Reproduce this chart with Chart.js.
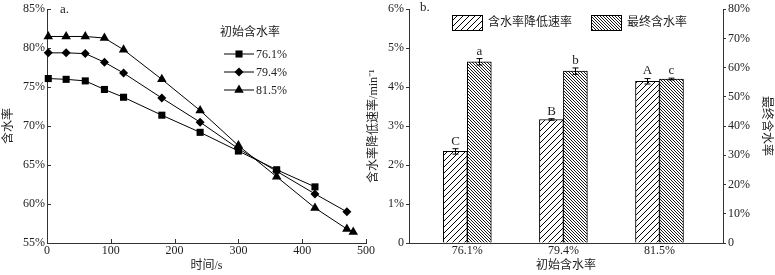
<!DOCTYPE html>
<html lang="zh">
  <head>
    <meta charset="UTF-8" />
    <title>含水率</title>
    <script src="https://cdn.jsdelivr.net/npm/chart.js@4.4.0/dist/chart.umd.min.js"></script>
    <style>
      body { margin: 0; background: #fff; }
      .wrap { position: relative; width: 775px; height: 275px; }
      canvas { position: absolute; top: 0; }
      #left { left: 0; }
      #right { left: 365px; }
    </style>
  </head>
  <body>
    <div class="wrap">
      <canvas id="left" width="385" height="275"></canvas>
      <canvas id="right" width="410" height="275"></canvas>
    </div>
    <script>
      // ---- panel a: moisture vs time ----
      const seriesNames = ["76.1%", "79.4%", "81.5%"];
      const t761 = [2, 30, 60, 90, 120, 180, 240, 300, 360, 420];
      const m761 = [76.1, 76.0, 75.8, 74.7, 73.7, 71.4, 69.2, 66.8, 64.4, 62.2];
      const t794 = [2, 30, 60, 90, 120, 180, 240, 300, 360, 420, 470];
      const m794 = [79.4, 79.4, 79.3, 78.2, 76.8, 73.6, 70.5, 67.1, 64.2, 61.3, 59.0];
      const t815 = [2, 30, 60, 90, 120, 180, 240, 300, 360, 420, 470, 480];
      const m815 = [81.5, 81.5, 81.5, 81.3, 79.8, 76.0, 72.0, 67.5, 63.5, 59.5, 56.8, 56.4];

      // ---- panel b: bars ----
      const categories = ["76.1%", "79.4%", "81.5%"];
      const rateValues = [2.35, 3.17, 4.15];
      const rateErrors = [0.07, 0.02, 0.07];
      const rateLetters = ["C", "B", "A"];
      const finalValues = [62.0, 58.8, 56.1];
      const finalErrors = [1.1, 1.1, 0.3];
      const finalLetters = ["a", "b", "c"];

      const FONT = '"Liberation Serif", "Noto Sans CJK SC", serif';
      const INK = "#222";
      Chart.defaults.font.family = FONT;
      Chart.defaults.font.size = 12;
      Chart.defaults.color = INK;

      const pct = (v) => (v === 0 ? "0" : v + "%");

      function drawMarker(ctx, style, x, y, r) {
        ctx.beginPath();
        if (style === "rect") {
          const s = r * Math.SQRT1_2;
          ctx.rect(x - s, y - s, 2 * s, 2 * s);
        } else if (style === "rectRot") {
          ctx.moveTo(x, y - r);
          ctx.lineTo(x + r, y);
          ctx.lineTo(x, y + r);
          ctx.lineTo(x - r, y);
          ctx.closePath();
        } else {
          const h = r * 1.5;
          ctx.moveTo(x, y - r);
          ctx.lineTo(x + h / Math.sqrt(3), y + r / 2);
          ctx.lineTo(x - h / Math.sqrt(3), y + r / 2);
          ctx.closePath();
        }
        ctx.fill();
      }

      const toPts = (xs, ys) => xs.map((x, i) => ({ x: x, y: ys[i] }));
      const styles = ["rect", "rectRot", "triangle"];
      const radii = [5, 4.5, 5.5];

      const leftExtras = {
        id: "leftExtras",
        afterDraw(chart) {
          const ctx = chart.ctx;
          const xs = chart.scales.x, ys = chart.scales.y;
          const area = chart.chartArea;
          ctx.save();
          // inward tick marks
          ctx.strokeStyle = "#333";
          ctx.lineWidth = 1;
          ctx.beginPath();
          xs.ticks.forEach((t) => {
            const px = Math.round(xs.getPixelForValue(t.value)) + 0.5;
            ctx.moveTo(px, area.bottom);
            ctx.lineTo(px, area.bottom - 4);
          });
          ys.ticks.forEach((t) => {
            const py = Math.round(ys.getPixelForValue(t.value)) + 0.5;
            ctx.moveTo(area.left, py);
            ctx.lineTo(area.left + 4, py);
          });
          ctx.stroke();

          // panel label
          ctx.fillStyle = INK;
          ctx.font = "13px " + FONT;
          ctx.textBaseline = "middle";
          ctx.textAlign = "left";
          ctx.fillText("a.", 60, 10);

          // legend
          ctx.font = "12px " + FONT;
          ctx.fillText("初始含水率", 220, 33);
          chart.data.datasets.forEach((ds, i) => {
            const y = 54 + i * 18;
            ctx.strokeStyle = "#000";
            ctx.beginPath();
            ctx.moveTo(224, y);
            ctx.lineTo(254, y);
            ctx.stroke();
            ctx.fillStyle = "#000";
            drawMarker(ctx, styles[i], 239, y, radii[i]);
            ctx.fillStyle = INK;
            ctx.fillText(ds.label, 256, y + 1);
          });
          ctx.restore();
        },
      };

      new Chart(document.getElementById("left"), {
        type: "line",
        data: {
          datasets: [
            { label: seriesNames[0], data: toPts(t761, m761) },
            { label: seriesNames[1], data: toPts(t794, m794) },
            { label: seriesNames[2], data: toPts(t815, m815) },
          ].map((d, i) => ({
            ...d,
            borderColor: "#000",
            backgroundColor: "#000",
            borderWidth: 1,
            pointStyle: styles[i],
            pointRadius: radii[i],
            pointBorderWidth: 0,
            tension: 0,
            clip: false,
          })),
        },
        options: {
          responsive: false,
          animation: false,
          layout: { padding: { top: 7, right: 19, left: 0, bottom: 0 } },
          plugins: { legend: { display: false }, tooltip: { enabled: false } },
          scales: {
            x: {
              type: "linear",
              min: 0,
              max: 500,
              afterFit: (s) => { s.height = 32; },
              ticks: { stepSize: 100, padding: 1 },
              grid: { display: true, drawOnChartArea: false, drawTicks: false },
              border: { color: "#333" },
              title: { display: true, text: "时间/s", padding: { top: 0, bottom: 2 } },
            },
            y: {
              min: 55,
              max: 85,
              afterFit: (s) => { s.width = 47; },
              ticks: { stepSize: 5, padding: 2, callback: (v) => v + "%" },
              grid: { display: true, drawOnChartArea: false, drawTicks: false },
              border: { color: "#333" },
              title: { display: true, text: "含水率", padding: { top: 2, bottom: 0 } },
            },
          },
        },
        plugins: [leftExtras],
      });

      // hatch patterns for the bars
      const rightCtx = document.getElementById("right").getContext("2d");
      function hatch(size, forward, lw) {
        const c = document.createElement("canvas");
        c.width = c.height = size;
        const g = c.getContext("2d");
        g.fillStyle = "#fff";
        g.fillRect(0, 0, size, size);
        g.strokeStyle = "#000";
        g.lineWidth = lw;
        g.beginPath();
        if (forward) {
          g.moveTo(-1, size + 1); g.lineTo(size + 1, -1);
          g.moveTo(-1, 1); g.lineTo(1, -1);
          g.moveTo(size - 1, size + 1); g.lineTo(size + 1, size - 1);
        } else {
          g.moveTo(-1, -1); g.lineTo(size + 1, size + 1);
          g.moveTo(-1, size - 1); g.lineTo(1, size + 1);
          g.moveTo(size - 1, -1); g.lineTo(size + 1, 1);
        }
        g.stroke();
        return rightCtx.createPattern(c, "repeat");
      }
      const ratePattern = hatch(6, true, 1);
      const finalPattern = hatch(3, false, 0.9);

      const rightExtras = {
        id: "rightExtras",
        afterDatasetsDraw(chart) {
          const ctx = chart.ctx;
          const errs = [rateErrors, finalErrors];
          const letters = [rateLetters, finalLetters];
          ctx.save();
          ctx.strokeStyle = "#000";
          ctx.lineWidth = 1;
          ctx.fillStyle = INK;
          ctx.font = "13px " + FONT;
          ctx.textAlign = "center";
          ctx.textBaseline = "bottom";
          chart.data.datasets.forEach((ds, i) => {
            const meta = chart.getDatasetMeta(i);
            const sc = chart.scales[ds.yAxisID];
            meta.data.forEach((el, j) => {
              const v = ds.data[j].y;
              const top = sc.getPixelForValue(v + errs[i][j]);
              const bot = sc.getPixelForValue(v - errs[i][j]);
              const x = Math.round(el.x) + 0.5;
              ctx.beginPath();
              ctx.moveTo(x, top); ctx.lineTo(x, bot);
              ctx.moveTo(x - 3, top); ctx.lineTo(x + 3, top);
              ctx.moveTo(x - 3, bot); ctx.lineTo(x + 3, bot);
              ctx.stroke();
              ctx.fillText(letters[i][j], x, top - 1);
            });
          });
          ctx.restore();
        },
        afterDraw(chart) {
          const ctx = chart.ctx;
          ctx.save();
          ctx.fillStyle = INK;
          ctx.font = "13px " + FONT;
          ctx.textBaseline = "middle";
          ctx.textAlign = "left";
          ctx.fillText("b.", 55, 8);
          // legend boxes
          ctx.font = "12px " + FONT;
          const boxX = [87, 226];
          chart.data.datasets.forEach((ds, i) => {
            ctx.fillStyle = ds.backgroundColor;
            ctx.fillRect(boxX[i], 15, 30, 15);
            ctx.strokeStyle = "#000";
            ctx.strokeRect(boxX[i] + 0.5, 15.5, 30, 15);
            ctx.fillStyle = INK;
            ctx.fillText(ds.label, boxX[i] + 36, 23);
          });
          ctx.restore();
        },
      };

      new Chart(rightCtx, {
        type: "bar",
        data: {
          datasets: [
            {
              label: "含水率降低速率",
              data: rateValues.map((v, i) => ({ x: i + 1, y: v })),
              yAxisID: "y",
              backgroundColor: ratePattern,
              borderColor: "#000",
              borderWidth: 1,
              barThickness: 24,
            },
            {
              label: "最终含水率",
              data: finalValues.map((v, i) => ({ x: i + 1, y: v })),
              yAxisID: "y1",
              backgroundColor: finalPattern,
              borderColor: "#000",
              borderWidth: 1,
              barThickness: 24,
            },
          ],
        },
        options: {
          responsive: false,
          animation: false,
          layout: { padding: { top: 7, right: 0, left: 0, bottom: 0 } },
          plugins: { legend: { display: false }, tooltip: { enabled: false } },
          scales: {
            x: {
              type: "linear",
              offset: false,
              min: 0.393,
              max: 3.661,
              afterFit: (s) => { s.height = 32; },
              afterBuildTicks: (s) => { s.ticks = categories.map((c, i) => ({ value: i + 1 })); },
              ticks: { padding: 1, autoSkip: false, callback: (v) => categories[v - 1] },
              grid: { display: true, drawOnChartArea: false, drawTicks: false },
              border: { color: "#333" },
              title: { display: true, text: "初始含水率", padding: { top: 0, bottom: 2 } },
            },
            y: {
              position: "left",
              min: 0,
              max: 6,
              afterFit: (s) => { s.width = 44; },
              ticks: { stepSize: 1, padding: 2, callback: pct },
              grid: { display: true, drawOnChartArea: false, drawTicks: true, tickLength: 3, color: "#333" },
              border: { color: "#333" },
              title: { display: true, text: "含水率降低速率/min⁻¹", padding: { top: 2, bottom: 0 } },
            },
            y1: {
              position: "right",
              min: 0,
              max: 80,
              afterFit: (s) => { s.width = 52; },
              ticks: { stepSize: 10, padding: 2, callback: pct },
              grid: { display: true, drawOnChartArea: false, drawTicks: true, tickLength: 3, color: "#333" },
              border: { color: "#333" },
              title: { display: true, text: "最终含水率", padding: { top: 2, bottom: 0 } },
            },
          },
        },
        plugins: [rightExtras],
      });
    </script>
  </body>
</html>
